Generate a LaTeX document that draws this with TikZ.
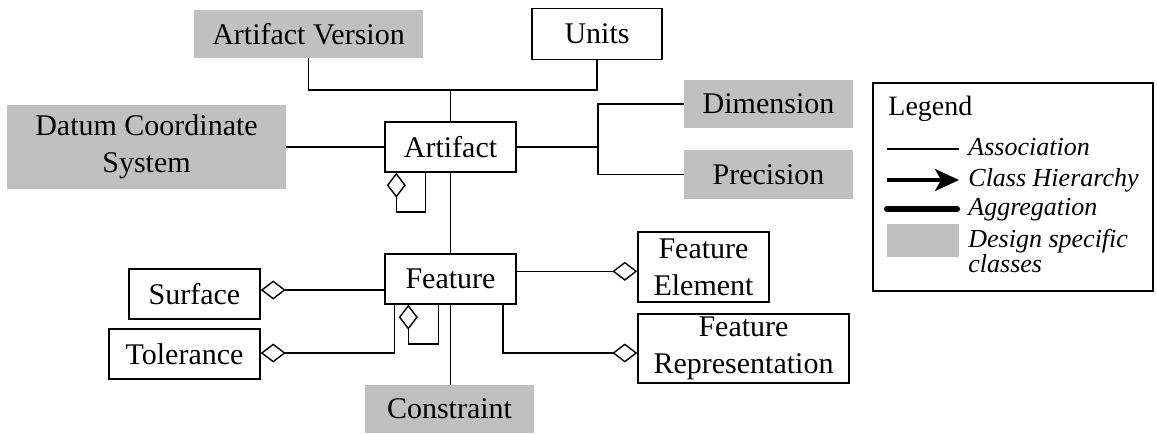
\documentclass[tikz,border=0pt]{standalone}
\usepackage{fontspec}
\setmainfont{Liberation Serif}
\usepackage{xcolor}
\usetikzlibrary{arrows.meta,calc}

\definecolor{dsgngray}{RGB}{192,192,192}

\tikzset{
  cls/.style={draw, line width=0.7pt, fill=white, inner sep=0pt, align=center,
    font=\fontsize{15}{18.5}\selectfont},
  dsgn/.style={fill=dsgngray, inner sep=0pt, align=center,
    font=\fontsize{15}{18.5}\selectfont},
  conn/.style={line width=0.8pt},
  agg/.style={conn, -{Diamond[open, length=12.5pt, width=9.5pt, line width=0.7pt]}},
  legtxt/.style={anchor=base west, inner sep=0pt, font=\fontsize{13}{15}\selectfont\itshape}
}

\begin{document}
\begin{tikzpicture}[x=0.5pt, y=-0.5pt]
\useasboundingbox (0,0) rectangle (1157,434);

% the classes
\node[dsgn, minimum width=114.5pt, minimum height=24pt] (aver) at (308.5,34) {Artifact Version};
\node[cls, minimum width=65pt, minimum height=25.5pt] (units) at (597,34) {Units};
\node[dsgn, minimum width=139.5pt, minimum height=42pt] (datum) at (146.5,147) {Datum Coordinate\\System};
\node[cls, minimum width=65.5pt, minimum height=25pt] (art) at (450.5,147) {Artifact};
\node[dsgn, minimum width=84.5pt, minimum height=24pt] (dim) at (768.5,104) {Dimension};
\node[dsgn, minimum width=84.5pt, minimum height=24.5pt] (prec) at (768.5,174.5) {Precision};

\node[cls, minimum width=65.5pt, minimum height=25pt] (feat) at (450.5,279) {Feature};
\node[cls, minimum width=65.5pt, minimum height=25pt] (surf) at (194.5,294) {Surface};
\node[cls, minimum width=75.5pt, minimum height=25pt] (tol) at (184.5,354) {Tolerance};
\node[dsgn, minimum width=84.5pt, minimum height=24pt] (con) at (449.5,409) {Constraint};
\node[cls, minimum width=65.5pt, minimum height=35pt] (fe) at (703.5,267) {Feature\\Element};
\node[cls, minimum width=105.5pt, minimum height=34.5pt] (fr) at (743.5,348.5) {Feature\\Representation};

% connectors round Artifact
\coordinate (hub) at (450.5,90);
\coordinate (split) at (598,147);
\draw[conn] (aver.south) |- (hub) -| (units.south);
\draw[conn] (hub) -- (art.north);
\draw[conn] (datum.east) -- (datum.east -| art.west);
\draw[conn] (art.east) -- (split);
\draw[conn] (dim.west) -| (split) |- (prec.west);
\draw[agg] ($(art.south west)+(41,0)$) -- ++(0,39) -| ($(art.south west)+(12,0)$);
\draw[conn] (art.south) -- (feat.north);

% connectors round Feature
\coordinate (fs) at ($(surf.east)+(0,-4)$);
\draw[agg] (fs -| feat.west) -- (fs);
\draw[agg] ($(feat.south west)+(10,0)$) |- ($(tol.east)+(0,-1)$);
\draw[agg] ($(feat.south west)+(54,0)$) -- ++(0,39) -| ($(feat.south west)+(24,0)$);
\draw[conn] (feat.south) -- (con.north -| feat.south);
\coordinate (fa) at ($(feat.north east)+(0,18)$);
\draw[agg] (fa) -- (fa -| fe.west);
\draw[agg] ($(feat.south east)+(-14,0)$) |- ($(fr.west)+(0,4.5)$);

% legend
\node[draw, line width=0.7pt, minimum width=140pt, minimum height=104pt, inner sep=0pt] (leg) at (1013,187) {};
\node[anchor=base west, inner sep=0pt, font=\fontsize{14}{16}\selectfont] (legt) at (888,115) {Legend};
\foreach \y/\name in {149/lass, 180/lcls, 209/lagg}
  \coordinate (\name) at (887,\y);
\draw[line width=0.7pt] (lass) -- ++(72,0);
\draw[line width=1.6pt, -{Stealth[length=12pt, width=11pt, inset=3pt]}] (lcls) -- ++(72,0);
\draw[line width=3pt, line cap=round] (lagg) -- ++(70,0);
\fill[dsgngray] (887,224) rectangle (959,257);
\node[legtxt] (tass) at (968,155) {Association};
\node[legtxt] (tcls) at (968,186) {Class Hierarchy};
\node[legtxt] (tagg) at (968,215) {Aggregation};
\node[legtxt] (tdsgn) at (968,247) {Design specific};
\node[legtxt] (tdsgn2) at (968,272) {classes};
\end{tikzpicture}
\end{document}
